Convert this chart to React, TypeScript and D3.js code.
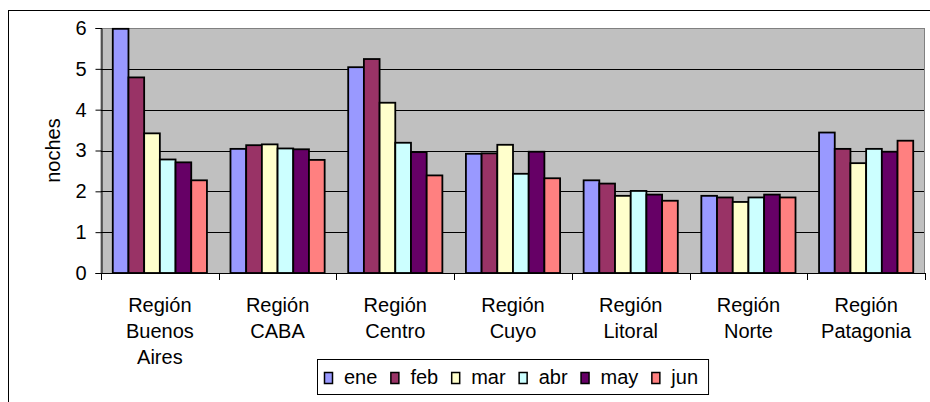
import React, { useRef, useEffect } from "react";
import * as d3 from "d3";

const regions = [
    "Región Buenos Aires",
    "Región CABA",
    "Región Centro",
    "Región Cuyo",
    "Región Litoral",
    "Región Norte",
    "Región Patagonia",
];
const months = ["ene", "feb", "mar", "abr", "may", "jun"];
const monthColors = ["#9999FF", "#993366", "#FFFFCC", "#CCFFFF", "#660066", "#FF8080"];

// nights per region, one array per month
const ene = [5.98, 3.04, 5.04, 2.92, 2.27, 1.89, 3.44];
const feb = [4.79, 3.13, 5.24, 2.93, 2.19, 1.85, 3.04];
const mar = [3.42, 3.15, 4.17, 3.14, 1.89, 1.74, 2.69];
const abr = [2.78, 3.05, 3.19, 2.43, 2.01, 1.85, 3.04];
const may = [2.71, 3.03, 2.96, 2.97, 1.92, 1.92, 2.97];
const jun = [2.27, 2.77, 2.39, 2.32, 1.77, 1.85, 3.24];
const series = [ene, feb, mar, abr, may, jun];

const yTicks = [0, 1, 2, 3, 4, 5, 6];
const yTitle = "noches";

export default function App() {
    const svgRef = useRef<SVGSVGElement>(null);

    useEffect(() => {
        if (!svgRef.current) return;
        const svg = d3.select(svgRef.current);
        svg.selectAll("*").remove();

        const font = "'Liberation Sans', Arial, sans-serif";
        const plot = { left: 101, right: 925, top: 28, bottom: 273 };

        // outer chart frame (runs off the right and bottom of the picture)
        svg.append("rect")
            .attr("x", 8.5).attr("y", 10.5)
            .attr("width", 960).attr("height", 440)
            .attr("fill", "#fff").attr("stroke", "#000");

        const x = d3.scaleBand<string>()
            .domain(regions)
            .range([plot.left, plot.right]);

        const xInner = d3.scaleBand<string>()
            .domain(months)
            .range([0, x.bandwidth()])
            .paddingInner(0)
            .paddingOuter(0.75);

        const y = d3.scaleLinear()
            .domain([0, 6])
            .range([plot.bottom, plot.top]);

        // plot area
        svg.append("rect")
            .attr("x", plot.left).attr("y", plot.top + 0.5)
            .attr("width", plot.right - plot.left - 0.5)
            .attr("height", plot.bottom - plot.top)
            .attr("fill", "#C0C0C0")
            .attr("stroke", "#808080");

        // gridlines
        svg.append("g")
            .selectAll("line")
            .data(yTicks.filter(t => t > 0 && t < 6))
            .join("line")
            .attr("x1", plot.left).attr("x2", plot.right - 1)
            .attr("y1", d => Math.round(y(d)) + 0.5)
            .attr("y2", d => Math.round(y(d)) + 0.5)
            .attr("stroke", "#000");

        // bars
        const groups = svg.append("g")
            .selectAll("g")
            .data(regions)
            .join("g")
            .attr("transform", d => `translate(${x(d)},0)`);

        groups.selectAll("rect")
            .data((_, i) => months.map((m, j) => ({ m, j, v: series[j][i] })))
            .join("rect")
            .attr("x", d => xInner(d.m)!)
            .attr("y", d => y(d.v))
            .attr("width", xInner.bandwidth())
            .attr("height", d => y(0) - y(d.v))
            .attr("fill", d => monthColors[d.j])
            .attr("stroke", "#000")
            .attr("stroke-width", 1.8);

        // y axis
        const yAxis = svg.append("g")
            .attr("transform", `translate(${plot.left + 0.5},0)`)
            .call(d3.axisLeft(y).tickValues(yTicks).tickSize(6).tickPadding(9).tickFormat(d3.format("d")));
        yAxis.select(".domain").attr("stroke", "#000");
        yAxis.selectAll("line").attr("stroke", "#000");
        yAxis.selectAll("text")
            .attr("font-family", font)
            .attr("font-size", 20)
            .attr("fill", "#000");

        // x axis line and ticks at category boundaries
        const xAxis = svg.append("g");
        xAxis.append("line")
            .attr("x1", plot.left).attr("x2", plot.right + 0.5)
            .attr("y1", plot.bottom + 0.5).attr("y2", plot.bottom + 0.5)
            .attr("stroke", "#000");
        const bounds = regions.map(r => x(r)!).concat([plot.right]);
        xAxis.selectAll("line.tick")
            .data(bounds)
            .join("line")
            .attr("class", "tick")
            .attr("x1", d => Math.round(d) + 0.5).attr("x2", d => Math.round(d) + 0.5)
            .attr("y1", plot.bottom).attr("y2", plot.bottom + 7)
            .attr("stroke", "#000");

        // category labels, one word per line
        const labels = xAxis.selectAll("text")
            .data(regions)
            .join("text")
            .attr("x", d => x(d)! + x.bandwidth() / 2)
            .attr("y", 312)
            .attr("text-anchor", "middle")
            .attr("font-family", font)
            .attr("font-size", 20)
            .attr("fill", "#000");
        labels.each(function (d) {
            const t = d3.select(this);
            d.split(" ").forEach((w, i) => {
                t.append("tspan")
                    .attr("x", x(d)! + x.bandwidth() / 2)
                    .attr("y", 312 + i * 26)
                    .text(w);
            });
        });

        // y title
        svg.append("text")
            .attr("transform", `translate(60,${(plot.top + plot.bottom) / 2}) rotate(-90)`)
            .attr("text-anchor", "middle")
            .attr("font-family", font)
            .attr("font-size", 20)
            .attr("fill", "#000")
            .text(yTitle);

        // legend
        const legend = svg.append("g");
        const box = legend.append("rect")
            .attr("y", 359.5).attr("height", 35)
            .attr("fill", "#fff").attr("stroke", "#000");
        let cx = 324;
        const startX = 317;
        months.forEach((m, j) => {
            legend.append("rect")
                .attr("x", cx + 0.5).attr("y", 372.5)
                .attr("width", 8).attr("height", 11)
                .attr("fill", monthColors[j])
                .attr("stroke", "#000")
                .attr("stroke-width", 1.5);
            const t = legend.append("text")
                .attr("x", cx + 20).attr("y", 384)
                .attr("font-family", font)
                .attr("font-size", 20)
                .attr("fill", "#000")
                .text(m);
            const w = (t.node() as SVGTextElement).getComputedTextLength();
            cx = cx + 20 + w + (j < months.length - 1 ? 13 : 10);
        });
        box.attr("x", startX + 0.5).attr("width", cx - startX);
    }, []);

    return (
        <svg
            ref={svgRef}
            width={930}
            height={402}
            style={{ position: "absolute", left: 0, top: 0, background: "#fff" }}
        />
    );
}
